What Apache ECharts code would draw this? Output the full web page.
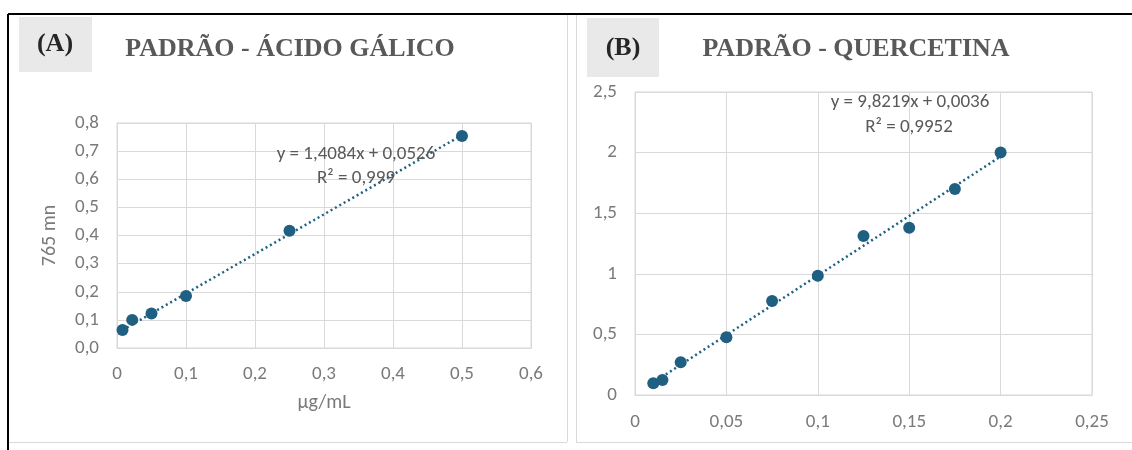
<!DOCTYPE html>
<html><head><meta charset="utf-8">
<script src="https://cdn.jsdelivr.net/npm/echarts@6/dist/echarts.min.js"></script>
<style>html,body{margin:0;padding:0;background:#fff}#c{width:1132px;height:450px}</style>
</head><body><div id="c"></div>
<script>
// Panel A: Ácido gálico
const gallicX = [0.008, 0.022, 0.05, 0.1, 0.25, 0.5];
const gallicY = [0.064, 0.100, 0.123, 0.185, 0.417, 0.754];
const gallicTrend = [[0.008, 0.064], [0.5, 0.757]]; // y = 1,4084x + 0,0526
const gallicEq = ["y = 1,4084x + 0,0526", "R² = 0,999"];
// Panel B: Quercetina
const querX = [0.01, 0.015, 0.025, 0.05, 0.075, 0.1, 0.125, 0.15, 0.175, 0.2];
const querY = [0.096, 0.124, 0.27, 0.476, 0.776, 0.984, 1.312, 1.38, 1.70, 2.0];
const querTrend = [[0.01, 0.102], [0.2, 1.968]]; // y = 9,8219x + 0,0036
const querEq = ["y = 9,8219x + 0,0036", "R² = 0,9952"];
const titles = ["PADRÃO - ÁCIDO GÁLICO", "PADRÃO - QUERCETINA"];
const tags = ["(A)", "(B)"];

const SANS = 'Carlito, "Liberation Sans Narrow", "Open Sans", sans-serif';
const SERIF = '"Liberation Serif", "DejaVu Serif", serif';
const TICK = '#7a7a7a', GRID = '#d9d9d9', MARK = '#1f5f82';
const comma = (d) => (v) => (d == null ? String(+v.toFixed(4)) : v.toFixed(d)).replace('.', ',');

const pairs = (xs, ys) => xs.map((x, i) => [x, ys[i]]);

function xAxis(idx, max, interval, margin, name) {
  return {
    type: 'value', gridIndex: idx, min: 0, max, interval,
    axisLine: { show: true, lineStyle: { color: GRID } }, axisTick: { show: false },
    splitLine: { show: true, lineStyle: { color: GRID } },
    axisLabel: { color: TICK, fontFamily: SANS, fontSize: 19, margin, formatter: comma(null) },
    name, nameLocation: 'middle', nameGap: 45,
    nameTextStyle: { color: TICK, fontFamily: SANS, fontSize: 20 }
  };
}
function yAxis(idx, max, interval, dec, name) {
  return {
    type: 'value', gridIndex: idx, min: 0, max, interval,
    axisLine: { show: true, lineStyle: { color: GRID } }, axisTick: { show: false },
    splitLine: { show: true, lineStyle: { color: GRID } },
    axisLabel: { color: TICK, fontFamily: SANS, fontSize: 19, margin: 18, formatter: comma(dec) },
    name, nameLocation: 'middle', nameGap: 57, nameRotate: 90,
    nameTextStyle: { color: TICK, fontFamily: SANS, fontSize: 20 }
  };
}

const chart = echarts.init(document.getElementById('c'), null, { renderer: 'canvas' });
chart.setOption({
  animation: false,
  backgroundColor: '#fff',
  grid: [
    { left: 117, top: 123, width: 414, height: 225, show: true, borderColor: GRID, borderWidth: 1 },
    { left: 635, top: 92, width: 457, height: 303, show: true, borderColor: GRID, borderWidth: 1 }
  ],
  xAxis: [xAxis(0, 0.6, 0.1, 17, 'µg/mL'), xAxis(1, 0.25, 0.05, 18, '')],
  yAxis: [yAxis(0, 0.8, 0.1, 1, '765 mn'), yAxis(1, 2.5, 0.5, null, '')],
  series: [
    { type: 'line', xAxisIndex: 0, yAxisIndex: 0, data: gallicTrend, symbol: 'none',
      lineStyle: { color: MARK, width: 2.5, type: [2, 3] }, z: 2 },
    { type: 'scatter', xAxisIndex: 0, yAxisIndex: 0, data: pairs(gallicX, gallicY),
      symbolSize: 12, itemStyle: { color: MARK, opacity: 1 }, z: 3 },
    { type: 'line', xAxisIndex: 1, yAxisIndex: 1, data: querTrend, symbol: 'none',
      lineStyle: { color: MARK, width: 2.5, type: [2, 3] }, z: 2 },
    { type: 'scatter', xAxisIndex: 1, yAxisIndex: 1, data: pairs(querX, querY),
      symbolSize: 12, itemStyle: { color: MARK, opacity: 1 }, z: 3 }
  ],
  graphic: [
    // frame lines
    { type: 'line', shape: { x1: 8, y1: 14, x2: 1132, y2: 14 }, style: { stroke: '#000', lineWidth: 2 } },
    { type: 'line', shape: { x1: 8, y1: 14, x2: 8, y2: 450 }, style: { stroke: '#000', lineWidth: 2 } },
    { type: 'line', shape: { x1: 567.5, y1: 15, x2: 567.5, y2: 442 }, style: { stroke: '#d9d9d9', lineWidth: 1 } },
    { type: 'line', shape: { x1: 9, y1: 442.5, x2: 567, y2: 442.5 }, style: { stroke: '#d9d9d9', lineWidth: 1 } },
    { type: 'line', shape: { x1: 576.5, y1: 15, x2: 576.5, y2: 442 }, style: { stroke: '#d9d9d9', lineWidth: 1 } },
    { type: 'line', shape: { x1: 576, y1: 442.5, x2: 1132, y2: 442.5 }, style: { stroke: '#d9d9d9', lineWidth: 1 } },
    // tag boxes
    { type: 'rect', shape: { x: 19, y: 17, width: 73, height: 55 }, style: { fill: '#e9e9e9' } },
    { type: 'rect', shape: { x: 587, y: 18, width: 72, height: 59 }, style: { fill: '#e9e9e9' } },
    { type: 'text', x: 55, y: 44, style: { text: tags[0], fill: '#262626', font: 'bold 26px ' + SERIF, textAlign: 'center', textVerticalAlign: 'middle' } },
    { type: 'text', x: 623, y: 48, style: { text: tags[1], fill: '#262626', font: 'bold 26px ' + SERIF, textAlign: 'center', textVerticalAlign: 'middle' } },
    // titles
    { type: 'text', x: 290, y: 49, style: { text: titles[0], fill: '#595959', font: 'bold 26px ' + SERIF, textAlign: 'center', textVerticalAlign: 'middle' } },
    { type: 'text', x: 856, y: 49, style: { text: titles[1], fill: '#595959', font: 'bold 26px ' + SERIF, textAlign: 'center', textVerticalAlign: 'middle' } },
    // equations
    { type: 'text', x: 356, y: 154, z: 10, style: { text: gallicEq[0], fill: '#595959', font: '19px ' + SANS, textAlign: 'center', textVerticalAlign: 'middle' } },
    { type: 'text', x: 356, y: 178, z: 10, style: { text: gallicEq[1], fill: '#595959', font: '19px ' + SANS, textAlign: 'center', textVerticalAlign: 'middle' } },
    { type: 'text', x: 910, y: 102, z: 10, style: { text: querEq[0], fill: '#595959', font: '19px ' + SANS, textAlign: 'center', textVerticalAlign: 'middle' } },
    { type: 'text', x: 909, y: 127, z: 10, style: { text: querEq[1], fill: '#595959', font: '19px ' + SANS, textAlign: 'center', textVerticalAlign: 'middle' } }
  ]
});
</script></body></html>
